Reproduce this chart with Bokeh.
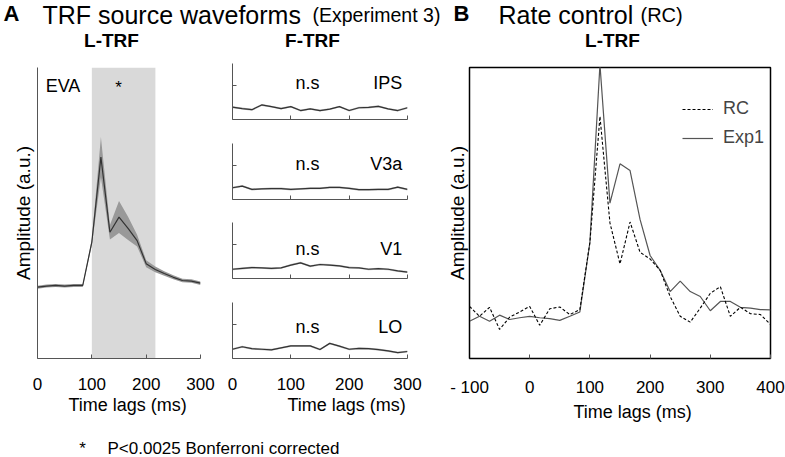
from bokeh.plotting import figure
from bokeh.models import (Range1d, Label, Legend, LegendItem, FixedTicker,
                          BoxAnnotation, Title)
from bokeh.layouts import row, column
from bokeh.embed import file_html
from bokeh.resources import INLINE
import numpy as np

FONT = "Liberation Sans"

# ---------------- data ----------------
lags_a = [0, 16.7, 33.3, 50, 66.7, 83.3, 100, 116.7, 133.3, 150, 166.7,
          183.3, 200, 216.7, 233.3, 250, 266.7, 283.3, 300]
eva_mean = [2.45, 2.49, 2.51, 2.49, 2.51, 2.51, 4.0, 6.92, 4.34, 4.86, 4.47,
            4.05, 3.26, 3.06, 2.92, 2.79, 2.68, 2.66, 2.59]
eva_err = [0.05, 0.05, 0.05, 0.05, 0.05, 0.05, 0.1, 0.69, 0.25, 0.55, 0.4,
           0.2, 0.12, 0.1, 0.08, 0.07, 0.06, 0.06, 0.06]
sig_window = [100, 217]

ftrf_regions = ["IPS", "V3a", "V1", "LO"]
ips = [0.44, 0.39, 0.35, 0.52, 0.46, 0.39, 0.46, 0.32, 0.38, 0.32, 0.37,
       0.46, 0.32, 0.42, 0.43, 0.47, 0.38, 0.32, 0.42]
v3a = [0.42, 0.48, 0.36, 0.38, 0.39, 0.39, 0.36, 0.38, 0.40, 0.40, 0.43,
       0.43, 0.40, 0.35, 0.35, 0.36, 0.36, 0.44, 0.36]
v1 = [0.33, 0.36, 0.39, 0.38, 0.36, 0.38, 0.48, 0.56, 0.44, 0.50, 0.48,
      0.45, 0.39, 0.38, 0.33, 0.35, 0.33, 0.27, 0.23]
lo = [0.33, 0.42, 0.35, 0.33, 0.31, 0.38, 0.45, 0.45, 0.45, 0.32, 0.54,
      0.44, 0.33, 0.36, 0.35, 0.32, 0.27, 0.21, 0.25]
ftrf_values = [ips, v3a, v1, lo]
ftrf_err = 0.035

lags_b = [-100, -83.3, -66.7, -50, -33.3, -16.7, 0, 16.7, 33.3, 50, 66.7,
          83.3, 100, 116.7, 133.3, 150, 166.7, 183.3, 200, 216.7, 233.3, 250,
          266.7, 283.3, 300, 316.7, 333.3, 350, 366.7, 383.3, 400]
rc = [1.79, 1.45, 1.76, 1.00, 1.42, 1.60, 1.79, 1.14, 1.71, 1.77, 1.51, 1.68,
      3.99, 8.32, 4.66, 3.25, 4.69, 3.65, 3.42, 3.03, 2.13, 1.45, 1.25, 1.73,
      2.24, 2.47, 1.45, 1.76, 1.54, 1.51, 1.17]
exp1 = [1.28, 1.45, 1.28, 1.49, 1.34, 1.40, 1.45, 1.40, 1.37, 1.31, 1.45,
        1.60, 3.99, 10.1, 5.34, 6.69, 6.46, 4.78, 3.54, 3.03, 2.30, 2.66,
        2.30, 2.13, 1.64, 1.96, 1.96, 1.76, 1.73, 1.68, 1.67]

ticks_a = [0, 100, 200, 300]
ticks_b = [-100, 0, 100, 200, 300, 400]
tick_labels_b = {-100: "- 100"}

AX = "#555555"
LINE = "#333333"


def base_fig(w, h, xr, yr, l, r, t, b):
    p = figure(width=w, height=h, x_range=xr, y_range=yr,
               output_backend="svg", toolbar_location=None,
               min_border_left=l, min_border_right=r,
               min_border_top=t, min_border_bottom=b)
    p.grid.visible = False
    p.outline_line_color = None
    p.background_fill_color = "white"
    p.border_fill_color = "white"
    return p


def style_x(p, ticks, show):
    ax = p.xaxis[0]
    ax.ticker = FixedTicker(ticks=ticks)
    ax.major_tick_in = 4
    ax.major_tick_out = 0
    ax.minor_tick_line_color = None
    ax.axis_line_color = AX
    ax.major_tick_line_color = AX
    ax.major_label_text_font = FONT
    ax.major_label_text_color = "black"
    if show:
        ax.major_label_text_font_size = "17px"
        ax.major_label_standoff = 19
    else:
        ax.major_label_text_font_size = "0px"
        ax.major_label_text_color = None
        ax.major_label_standoff = 0


def style_y(p, ticks, label=None):
    ax = p.yaxis[0]
    ax.ticker = FixedTicker(ticks=ticks)
    ax.major_tick_in = 4
    ax.major_tick_out = 0
    ax.minor_tick_line_color = None
    ax.axis_line_color = AX
    ax.major_tick_line_color = AX
    ax.major_label_text_font_size = "0px"
    ax.major_label_text_color = None
    ax.major_label_standoff = 0
    if label:
        ax.axis_label = label
        ax.axis_label_text_font = FONT
        ax.axis_label_text_font_size = "19px"
        ax.axis_label_text_font_style = "normal"
        ax.axis_label_text_color = "black"
        ax.axis_label_standoff = 4


def lab(p, x, y, text, size="17px", align="left", style="normal"):
    p.add_layout(Label(x=x, y=y, text=text,
                       text_font=FONT, text_font_size=size,
                       text_align=align, text_baseline="middle",
                       text_font_style=style, text_color="black"))


def xtitle(p, offset):
    p.add_layout(Title(text="Time lags (ms)", align="left", offset=offset,
                       text_font=FONT, text_font_size="18px",
                       text_font_style="normal", text_color="black",
                       standoff=0), "below")


# ---------------- title strip ----------------
tt = figure(width=785, height=55, x_range=Range1d(0, 785),
            y_range=Range1d(55, 0), output_backend="svg",
            toolbar_location=None, x_axis_type=None, y_axis_type=None,
            min_border=0)
tt.grid.visible = False
tt.outline_line_color = None
lab(tt, 3, 13, "A", "22px", style="bold")
lab(tt, 42, 14.5, "TRF source waveforms", "25px")
lab(tt, 312, 14, "(Experiment 3)", "19.5px")
lab(tt, 453, 13, "B", "22px", style="bold")
lab(tt, 498, 14.5, "Rate control", "25px")
lab(tt, 640, 14, "(RC)", "20px")
lab(tt, 111, 40, "L-TRF", "19px", align="center", style="bold")
lab(tt, 312, 40, "F-TRF", "19px", align="center", style="bold")
lab(tt, 612, 40, "L-TRF", "19px", align="center", style="bold")

# ---------------- panel A, L-TRF ----------------
pa = base_fig(215, 381, Range1d(0, 300), Range1d(0, 10), 37, 15, 12, 78)
pa.add_layout(BoxAnnotation(left=sig_window[0], right=sig_window[1],
                            fill_color="#d9d9d9", fill_alpha=1.0,
                            line_color=None, level="underlay"))
m = np.array(eva_mean)
e = np.array(eva_err)
pa.varea(x=lags_a, y1=m - e, y2=m + e, color="#999999")
pa.line(lags_a, eva_mean, color=LINE, line_width=1.2)
style_x(pa, ticks_a, True)
style_y(pa, [], "Amplitude (a.u.)")
lab(pa, 15, 9.38, "EVA", "18px")
lab(pa, 149, 9.3, "*", "17px", align="center")
xtitle(pa, 31)

# ---------------- panel A, F-TRF ----------------
heights = [76, 79, 80, 146]
tops = [8, 12, 12, 12]
bottoms = [12, 11, 12, 78]
label_y = [1.29, 1.27, 1.06, 1.12]
ffigs = []
for i, (name, vals) in enumerate(zip(ftrf_regions, ftrf_values)):
    pf = base_fig(215, heights[i], Range1d(0, 300), Range1d(0, 2), 17, 23,
                  tops[i], bottoms[i])
    v = np.array(vals)
    pf.varea(x=lags_a, y1=v - ftrf_err, y2=v + ftrf_err, color="#bdbdbd")
    pf.line(lags_a, vals, color=LINE, line_width=1.2)
    last = i == len(ftrf_regions) - 1
    style_x(pf, ticks_a, last)
    style_y(pf, [1.2])
    lab(pf, 128.6, label_y[i], "n.s", "18px", align="center")
    lab(pf, 291, label_y[i], name, "18px", align="right")
    if last:
        xtitle(pf, 55)
    ffigs.append(pf)
fcol = column(ffigs, spacing=0)

# ---------------- panel B ----------------
pb = base_fig(355, 381, Range1d(-100, 400), Range1d(0, 10), 39, 15, 7, 78)
pb.outline_line_color = "black"
pb.outline_line_width = 1.5
r_exp = pb.line(lags_b, exp1, color="#555555", line_width=1.2)
r_rc = pb.line(lags_b, rc, color="black", line_width=1.1, line_dash="3 2")
style_x(pb, ticks_b, True)
pb.xaxis[0].major_label_overrides = tick_labels_b
pb.xaxis[0].axis_line_color = "black"
style_y(pb, [], "Amplitude (a.u.)")
pb.yaxis[0].axis_line_color = "black"
pb.yaxis[0].axis_label_standoff = 2
legend = Legend(items=[LegendItem(label="RC", renderers=[r_rc]),
                       LegendItem(label="Exp1", renderers=[r_exp])],
                location=(213, 210), padding=0, margin=0, spacing=8,
                glyph_width=31, glyph_height=20, label_height=20,
                label_standoff=10, label_text_font=FONT,
                label_text_font_size="18px", border_line_color=None,
                background_fill_alpha=0)
pb.add_layout(legend)
xtitle(pb, 104)

# ---------------- footnote ----------------
ft = figure(width=785, height=21, x_range=Range1d(0, 785),
            y_range=Range1d(21, 0), output_backend="svg",
            toolbar_location=None, x_axis_type=None, y_axis_type=None,
            min_border=0)
ft.grid.visible = False
ft.outline_line_color = None
lab(ft, 82, 11.5, "*", "17px", align="center")
lab(ft, 107, 11.5, "P<0.0025 Bonferroni corrected", "17px")

layout = column([tt, row([pa, fcol, pb], spacing=0), ft], spacing=0)

open("out.html", "w").write(file_html(layout, INLINE))
